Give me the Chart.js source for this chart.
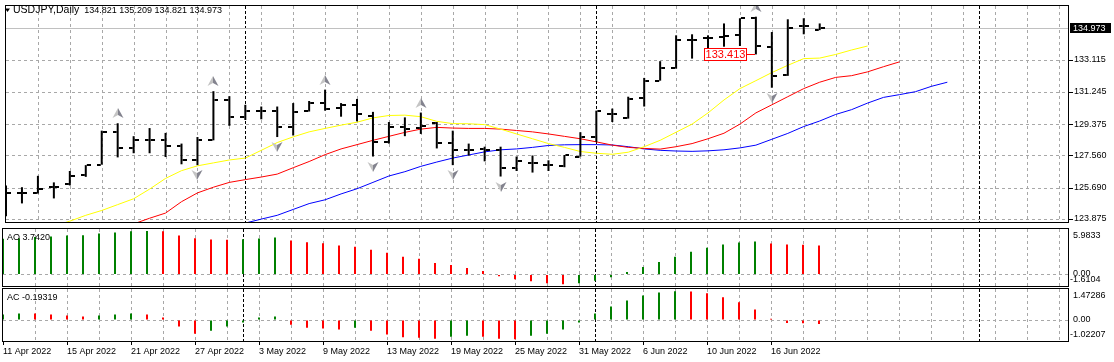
<!DOCTYPE html>
<html>
<head>
<meta charset="utf-8">
<script src="https://cdn.jsdelivr.net/npm/chart.js@4.4.1/dist/chart.umd.min.js"></script>
<style>
  body { margin: 0; background: #fff; width: 1114px; height: 362px; overflow: hidden; position: relative; }
  canvas { position: absolute; left: 0; }
  #main { top: 0; }
  #ao { top: 228px; }
  #ac { top: 288px; }
</style>
</head>
<body>
<canvas id="main" width="1114" height="228"></canvas>
<canvas id="ao" width="1114" height="59"></canvas>
<canvas id="ac" width="1114" height="74"></canvas>
<script>
"use strict";

    const symbol = 'USDJPY';
    const period = 'Daily';

    // trading days (one bar each)
    const dates = [
        '11 Apr 2022', '12 Apr 2022', '13 Apr 2022', '14 Apr 2022', '15 Apr 2022',
        '18 Apr 2022', '19 Apr 2022', '20 Apr 2022', '21 Apr 2022', '22 Apr 2022',
        '25 Apr 2022', '26 Apr 2022', '27 Apr 2022', '28 Apr 2022', '29 Apr 2022',
        '2 May 2022', '3 May 2022', '4 May 2022', '5 May 2022', '6 May 2022',
        '9 May 2022', '10 May 2022', '11 May 2022', '12 May 2022', '13 May 2022',
        '16 May 2022', '17 May 2022', '18 May 2022', '19 May 2022', '20 May 2022',
        '23 May 2022', '24 May 2022', '25 May 2022', '26 May 2022', '27 May 2022',
        '30 May 2022', '31 May 2022', '1 Jun 2022', '2 Jun 2022', '3 Jun 2022',
        '6 Jun 2022', '7 Jun 2022', '8 Jun 2022', '9 Jun 2022', '10 Jun 2022',
        '13 Jun 2022', '14 Jun 2022', '15 Jun 2022', '16 Jun 2022', '17 Jun 2022',
        '20 Jun 2022', '21 Jun 2022'
    ];

    const opens = [
        125.30, 125.36, 125.37, 125.71, 125.90, 126.43, 127.02, 128.93, 127.96, 128.43,
        128.43, 128.11, 127.27, 128.43, 130.77, 129.78, 130.15, 130.15, 129.18, 130.15,
        130.60, 130.30, 130.49, 129.83, 128.34, 129.20, 129.15, 129.46, 128.25, 127.87,
        127.90, 127.87, 126.84, 127.12, 126.99, 126.93, 127.49, 128.62, 129.97, 129.74,
        130.90, 131.89, 132.64, 134.27, 134.38, 134.42, 134.52, 135.51, 133.86, 132.23,
        135.04, 134.821
    ];
    const highs = [
        125.81, 125.71, 126.37, 125.99, 126.65, 126.99, 128.99, 129.42, 128.67, 129.14,
        128.86, 128.24, 128.62, 131.28, 130.99, 130.49, 130.39, 130.39, 130.59, 130.71,
        131.37, 130.59, 130.83, 130.08, 129.49, 129.76, 130.04, 129.49, 128.99, 128.24,
        128.06, 128.06, 127.49, 127.55, 127.27, 127.58, 128.90, 130.15, 130.27, 130.96,
        132.05, 133.02, 134.52, 134.58, 134.52, 135.21, 135.51, 135.60, 134.71, 135.45,
        135.51, 135.209
    ];
    const lows = [
        124.03, 124.77, 125.34, 125.06, 125.81, 126.31, 127.02, 127.44, 127.68, 127.68,
        127.46, 127.04, 126.99, 128.43, 129.27, 129.61, 129.65, 128.62, 128.71, 130.10,
        130.15, 129.80, 129.53, 127.49, 128.24, 128.67, 128.80, 127.96, 126.99, 127.55,
        127.21, 126.33, 126.65, 126.56, 126.65, 126.87, 127.49, 128.34, 129.49, 129.69,
        130.39, 131.89, 132.59, 133.17, 133.30, 133.86, 133.90, 133.413, 131.48, 132.17,
        134.58, 134.821
    ];
    const closes = [
        125.37, 125.38, 125.62, 125.71, 126.37, 126.99, 128.93, 127.96, 128.43, 128.43,
        128.11, 127.27, 128.43, 130.77, 129.78, 130.15, 130.15, 129.18, 130.08, 130.60,
        130.27, 130.45, 129.98, 128.34, 129.18, 129.10, 129.25, 128.29, 127.87, 127.87,
        127.87, 126.84, 127.25, 127.12, 126.99, 127.55, 128.65, 130.15, 129.97, 130.83,
        131.89, 132.64, 134.24, 134.27, 134.38, 134.46, 135.51, 133.92, 132.17, 134.95,
        135.04, 134.973
    ];

    // alligator lines (shifted forward), first bar index of each
    const lipsStart = 3;
    const lips = [
        123.47, 123.74, 124.08, 124.36, 124.70, 125.04, 125.60, 126.22, 126.67, 126.95,
        127.12, 127.29, 127.40, 127.85, 128.30, 128.63, 128.92, 129.12, 129.31, 129.48,
        129.73, 129.87, 129.89, 129.80, 129.53, 129.40, 129.39, 129.34, 129.08, 128.80,
        128.52, 128.24, 128.02, 127.78, 127.68, 127.62, 127.74, 128.06, 128.43, 128.90,
        129.37, 130.02, 130.77, 131.43, 131.89, 132.36, 132.78, 133.17, 133.20, 133.41,
        133.67, 133.90
    ];
    const teethStart = 8;
    const teeth = [
        123.58, 123.91, 124.21, 124.87, 125.38, 125.71, 125.99, 126.15, 126.30, 126.47,
        126.84, 127.20, 127.60, 127.93, 128.18, 128.43, 128.66, 128.89, 129.08, 129.18,
        129.14, 129.12, 129.12, 129.08, 129.00, 128.92, 128.80, 128.66, 128.52, 128.34,
        128.15, 128.02, 127.96, 127.92, 128.06, 128.24, 128.52, 128.84, 129.37, 130.02,
        130.49, 130.96, 131.43, 131.80, 132.08, 132.18, 132.40, 132.70, 132.98
    ];
    const jawStart = 15;
    const jaw = [
        123.63, 123.86, 124.08, 124.42, 124.76, 124.98, 125.32, 125.62, 125.99, 126.36,
        126.61, 126.92, 127.17, 127.40, 127.58, 127.76, 127.88, 127.93, 128.02, 128.13,
        128.17, 128.18, 128.18, 128.16, 128.06, 127.93, 127.85, 127.81, 127.79, 127.82,
        127.88, 127.99, 128.15, 128.49, 128.83, 129.23, 129.55, 129.93, 130.21, 130.59,
        130.92, 131.08, 131.25, 131.56, 131.80
    ];

    const fractalsUp = [7, 13, 20, 26, 47];
    const fractalsDown = [12, 17, 23, 28, 31, 48];
    const markIdx = 47;
    const markPrice = 133.413;
    const separators = [15, 37, 61]; // 1st bar of each month

    const ao = [
        4.59, 4.68, 4.81, 4.90, 5.03, 5.04, 5.29, 5.42, 5.58, 5.60,
        5.58, 5.03, 4.68, 4.50, 4.48, 4.52, 4.63, 4.77, 4.37, 4.15,
        4.02, 3.72, 3.58, 3.19, 2.80, 2.27, 2.01, 1.49, 1.22, 0.83,
        0.44, -0.22, -0.61, -0.87, -1.14, -1.27, -1.14, -0.79, -0.35, 0.31,
        0.96, 1.62, 2.27, 2.93, 3.45, 3.85, 4.11, 4.24, 3.98, 3.85,
        3.83, 3.742
    ];
    const ac = [
        0.25, 0.30, 0.29, 0.25, 0.20, 0.16, 0.20, 0.25, 0.30, 0.25,
        0.11, -0.31, -0.64, -0.50, -0.31, -0.12, 0.11, 0.16, -0.22, -0.36,
        -0.40, -0.45, -0.36, -0.50, -0.68, -0.80, -0.83, -0.87, -0.78, -0.73,
        -0.78, -0.87, -0.89, -0.73, -0.64, -0.45, -0.12, 0.30, 0.62, 0.90,
        1.13, 1.27, 1.32, 1.31, 1.23, 1.04, 0.81, 0.48, 0.05, -0.14,
        -0.15, -0.19319
    ];

    // tick labels
    const priceTicks = [123.875, 125.690, 127.560, 129.375, 131.245, 133.115];
    const priceMin = 123.634, priceMax = 136.279;
    const aoMin = -1.6104, aoMax = 5.9833;
    const acMin = -1.02207, acMax = 1.47286;

    const FONT = '"Liberation Sans", Arial, sans-serif';
    const GRID = '#a8a8a8';
    Chart.defaults.font.family = FONT;
    Chart.defaults.font.size = 9;
    Chart.defaults.color = '#000';

    const X_MIN = -0.0625, X_MAX = 66.625;
    const gridIdx = [];
    for (let i = 0; i <= 66; i += 2) gridIdx.push(i);
    const labeled = v => v % 4 === 0 && v < dates.length;

    function xScale(showLabels) {
        return {
            type: 'linear', min: X_MIN, max: X_MAX, offset: false,
            afterBuildTicks: s => { s.ticks = gridIdx.map(v => ({ value: v })); },
            afterFit: s => { s.height = showLabels ? 20 : 0; s.paddingLeft = 0; s.paddingRight = 0; },
            grid: { offset: false, drawOnChartArea: false, drawTicks: showLabels, tickLength: 3, tickColor: 'rgba(0,0,0,0)' },
            border: { display: false },
            ticks: {
                display: showLabels, autoSkip: false, maxRotation: 0, minRotation: 0,
                align: 'start', padding: 1, color: '#000',
                callback: v => labeled(v) ? dates[v] : ''
            }
        };
    }

    function subY(min, max) {
        return {
            position: 'right', min: min, max: max,
            afterBuildTicks: s => { s.ticks = [{ value: 0 }]; },
            afterFit: s => { s.width = 45; s.paddingTop = 0; s.paddingBottom = 0; },
            grid: { drawOnChartArea: false, drawTicks: false },
            border: { display: false },
            ticks: { display: false }
        };
    }

    // dashed line drawn as small filled rects, pixel exact
    function dashH(ctx, x1, x2, y) {
        for (let x = x1; x < x2; x += 6) ctx.fillRect(x, y, Math.min(3, x2 - x), 1);
    }
    function dashV(ctx, x, y1, y2, on, step) {
        for (let y = y1; y < y2; y += step) ctx.fillRect(x, y, 1, Math.min(on, y2 - y));
    }

    // dashed grid from the scale ticks + small axis tick marks
    const gridPlugin = {
        id: 'dashGrid',
        beforeDatasetsDraw(chart) {
            const { ctx, chartArea: a, scales: { x, y } } = chart;
            ctx.save();
            ctx.fillStyle = GRID;
            x.ticks.forEach(t => {
                if (t.value === 0) return;
                dashV(ctx, Math.round(x.getPixelForValue(t.value)), a.top + 1, a.bottom - 1, 3, 6);
            });
            y.ticks.forEach(t => {
                dashH(ctx, a.left + 1, a.right - 1, Math.round(y.getPixelForValue(t.value)));
            });
            ctx.restore();
        },
        afterDraw(chart) {
            const { ctx, chartArea: a, scales: { x, y } } = chart;
            ctx.save();
            ctx.fillStyle = '#000';
            if (y.options.ticks.display) {
                y.ticks.forEach(t => ctx.fillRect(a.right, Math.round(y.getPixelForValue(t.value)), 4, 1));
            }
            if (x.options.ticks.display) {
                x.ticks.forEach(t => {
                    if (labeled(t.value)) ctx.fillRect(Math.round(x.getPixelForValue(t.value)), a.bottom, 1, 3);
                });
            }
            ctx.restore();
        }
    };

    const borderPlugin = {
        id: 'panelBorder',
        afterDraw(chart) {
            const { ctx, chartArea: a } = chart;
            ctx.save();
            ctx.strokeStyle = '#000';
            ctx.lineWidth = 1;
            ctx.strokeRect(a.left + 0.5, a.top + 0.5, a.width - 1, a.height - 1);
            ctx.restore();
        }
    };

    const separatorPlugin = {
        id: 'separators',
        beforeDatasetsDraw(chart) {
            const { ctx, chartArea: a, scales: { x } } = chart;
            ctx.save();
            ctx.fillStyle = '#000';
            separators.forEach(i => dashV(ctx, Math.round(x.getPixelForValue(i)), a.top + 1, a.bottom - 1, 3, 5));
            ctx.restore();
        }
    };

    function drawArrow(ctx, x, tipY, up) {
        ctx.save();
        ctx.translate(Math.round(x), Math.round(tipY));
        if (!up) ctx.scale(1, -1);
        ctx.beginPath();
        ctx.moveTo(0, 0); ctx.lineTo(-5.5, 10); ctx.lineTo(0, 7); ctx.closePath();
        ctx.fillStyle = '#c4c4c4';
        ctx.fill();
        ctx.beginPath();
        ctx.moveTo(0, 0); ctx.lineTo(5.5, 10); ctx.lineTo(0, 7); ctx.closePath();
        ctx.fillStyle = '#83838e';
        ctx.fill();
        ctx.restore();
    }

    const mainOverlay = {
        id: 'mainOverlay',
        beforeDatasetsDraw(chart) {
            const { ctx, chartArea: a, scales: { y } } = chart;
            ctx.save();
            ctx.fillStyle = '#c0c0c0';
            ctx.fillRect(a.left + 1, Math.round(y.getPixelForValue(closes[closes.length - 1])), a.width - 2, 1);
            ctx.restore();
        },
        afterDatasetsDraw(chart) {
            const { ctx, chartArea: a, scales: { x, y } } = chart;
            const last = closes.length - 1;
            ctx.save();
            ctx.beginPath();
            ctx.rect(a.left, a.top, a.width, a.height);
            ctx.clip();
            fractalsUp.forEach(i => drawArrow(ctx, x.getPixelForValue(i), y.getPixelForValue(highs[i]) - 15, true));
            fractalsDown.forEach(i => drawArrow(ctx, x.getPixelForValue(i), y.getPixelForValue(lows[i]) + 15, false));

            // price label of the marked low
            const mx = Math.round(x.getPixelForValue(markIdx));
            const my = Math.round(y.getPixelForValue(markPrice));
            ctx.fillStyle = '#ff0000';
            ctx.fillRect(mx - 9, my, 8, 1);
            ctx.fillStyle = '#fff';
            ctx.fillRect(mx - 52, my - 6, 43, 13);
            ctx.strokeStyle = '#ff0000';
            ctx.lineWidth = 1;
            ctx.strokeRect(mx - 51.5, my - 5.5, 42, 12);
            ctx.fillStyle = '#ff0000';
            ctx.font = '11px ' + FONT;
            ctx.textAlign = 'center';
            ctx.textBaseline = 'middle';
            ctx.fillText(markPrice.toFixed(3), mx - 30.5, my + 1);

            // title
            ctx.fillStyle = '#000';
            ctx.beginPath();
            ctx.moveTo(5, 8.5); ctx.lineTo(10, 8.5); ctx.lineTo(7.5, 12); ctx.closePath();
            ctx.fill();
            const name = symbol + ',' + period;
            ctx.textAlign = 'left';
            ctx.font = '10.5px ' + FONT;
            ctx.fillText(name, 13, 10.5);
            const w = ctx.measureText(name).width;
            ctx.font = '9px ' + FONT;
            ctx.fillText([opens[last], highs[last], lows[last], closes[last]].map(v => v.toFixed(3)).join(' '), 13 + w + 5, 10.5);
            ctx.restore();

            // current price box on the axis
            const cy = Math.round(y.getPixelForValue(closes[last]));
            ctx.save();
            ctx.fillStyle = '#000';
            ctx.fillRect(a.right + 1, cy - 5, 41, 10);
            ctx.fillStyle = '#fff';
            ctx.font = '9px ' + FONT;
            ctx.textBaseline = 'middle';
            ctx.fillText(closes[last].toFixed(3), a.right + 4, cy + 0.5);
            ctx.restore();
        }
    };

    function panelOverlay(name, values, decimals) {
        return {
            id: 'panel' + name,
            afterDatasetsDraw(chart) {
                const { ctx, chartArea: a, scales: { y } } = chart;
                ctx.save();
                ctx.font = '9px ' + FONT;
                ctx.fillStyle = '#000';
                ctx.textBaseline = 'middle';
                ctx.textAlign = 'left';
                ctx.fillText(name + ' ' + values[values.length - 1].toFixed(decimals), 7, a.top + 9.5);
                const lx = a.right + 4;
                ctx.fillText(y.max.toFixed(decimals), lx, a.top + 8);
                ctx.fillText('0.00', lx, y.getPixelForValue(0) - 0.5);
                ctx.fillText(y.min.toFixed(decimals), lx - 3, a.bottom - 7);
                ctx.restore();
            }
        };
    }

    function tickImg(side) {
        const c = document.createElement('canvas');
        c.width = 10;
        c.height = 2;
        const g = c.getContext('2d');
        g.fillStyle = '#000';
        if (side === 'left') g.fillRect(0, 0, 4, 2);
        else g.fillRect(6, 0, 4, 2);
        return c;
    }

    const upDown = vals => vals.map((v, i) => (i === 0 || v > vals[i - 1]) ? '#008000' : '#ff0000');
    const series = (vals, start) => vals.map((v, k) => ({ x: k + start, y: v }));

    const common = {
        responsive: false,
        maintainAspectRatio: false,
        animation: false,
        events: [],
        plugins: { legend: { display: false }, tooltip: { enabled: false } }
    };

    new Chart(document.getElementById('main'), {
        type: 'line',
        data: {
            datasets: [
                {
                    type: 'bar',
                    data: opens.map((_, i) => ({ x: i, y: [lows[i], highs[i]] })),
                    backgroundColor: '#000', barThickness: 2, inflateAmount: 0, order: 1
                },
                {
                    data: opens.map((v, i) => ({ x: i, y: v })),
                    showLine: false, pointStyle: tickImg('left'), pointRadius: 3, order: 0
                },
                {
                    data: closes.map((v, i) => ({ x: i, y: v })),
                    showLine: false, pointStyle: tickImg('right'), pointRadius: 3, order: 0
                },
                { data: series(lips, lipsStart), borderColor: '#ffff00', borderWidth: 1, pointRadius: 0, order: 2 },
                { data: series(teeth, teethStart), borderColor: '#ff0000', borderWidth: 1, pointRadius: 0, order: 2 },
                { data: series(jaw, jawStart), borderColor: '#0000ff', borderWidth: 1, pointRadius: 0, order: 2 }
            ]
        },
        options: Object.assign({}, common, {
            layout: { padding: { left: 2, right: 0, top: 2, bottom: 1 } },
            scales: {
                x: xScale(false),
                y: {
                    position: 'right', min: priceMin, max: priceMax,
                    afterBuildTicks: s => { s.ticks = priceTicks.map(v => ({ value: v })); },
                    afterFit: s => { s.width = 45; s.paddingTop = 0; s.paddingBottom = 0; },
                    grid: { drawOnChartArea: false, tickLength: 4, tickColor: 'rgba(0,0,0,0)' },
                    border: { display: false },
                    ticks: { padding: 1, color: '#000', callback: v => v.toFixed(3) }
                }
            }
        }),
        plugins: [gridPlugin, separatorPlugin, mainOverlay, borderPlugin]
    });

    new Chart(document.getElementById('ao'), {
        type: 'bar',
        data: {
            datasets: [{
                data: ao.map((v, i) => ({ x: i, y: v })),
                backgroundColor: upDown(ao), barThickness: 2, inflateAmount: 0
            }]
        },
        options: Object.assign({}, common, {
            layout: { padding: { left: 2, right: 0, top: 0, bottom: 0 } },
            scales: { x: xScale(false), y: subY(aoMin, aoMax) }
        }),
        plugins: [gridPlugin, separatorPlugin, panelOverlay('AO', ao, 4), borderPlugin]
    });

    new Chart(document.getElementById('ac'), {
        type: 'bar',
        data: {
            datasets: [{
                data: ac.map((v, i) => ({ x: i, y: v })),
                backgroundColor: upDown(ac), barThickness: 2, inflateAmount: 0
            }]
        },
        options: Object.assign({}, common, {
            layout: { padding: { left: 2, right: 0, top: 0, bottom: 0 } },
            scales: { x: xScale(true), y: subY(acMin, acMax) }
        }),
        plugins: [gridPlugin, separatorPlugin, panelOverlay('AC', ac, 5), borderPlugin]
    });
</script>
</body>
</html>
